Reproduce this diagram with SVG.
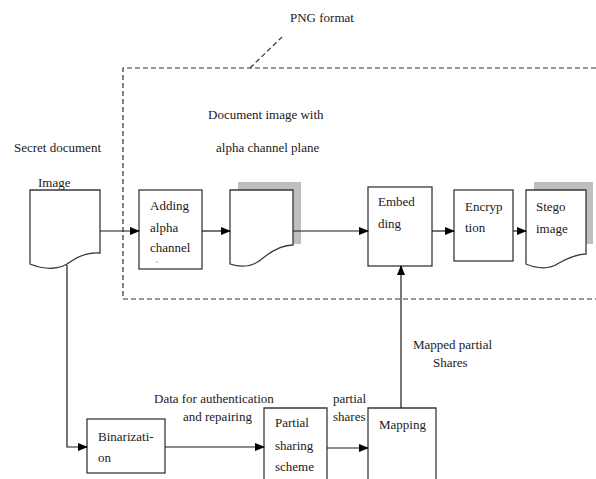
<svg xmlns="http://www.w3.org/2000/svg" width="596" height="479" viewBox="0 0 596 479">
<style>
text{font-family:"Liberation Serif","Times New Roman",serif;font-size:13px;fill:#1a1a1a}
.box{fill:#fff;stroke:#3a3a3a;stroke-width:1.3}
.shadow{fill:#bfbfbf}
.ln{fill:none;stroke:#1a1a1a;stroke-width:1.2}
.dash{fill:none;stroke:#333;stroke-width:1.2;stroke-dasharray:5,3}
</style>
<defs>
<marker id="ah" markerWidth="10" markerHeight="8" refX="9" refY="4" orient="auto" markerUnits="userSpaceOnUse">
<path d="M0,0 L10,4 L0,8 Z" fill="#000"/>
</marker>
</defs>
<rect width="596" height="479" fill="#fff"/>

<g id="png-format">
<path class="dash" d="M596,68 H123 V299 H596"/>
<path class="dash" d="M250,68 L282,37"/>
<text x="290" y="22">PNG format</text>
</g>

<g id="labels">
<text x="208" y="119">Document image with</text>
<text x="216" y="152">alpha channel plane</text>
<text x="14" y="152">Secret document</text>
<text x="38" y="187">Image</text>
<text x="154" y="403">Data for authentication</text>
<text x="183" y="421">and repairing</text>
<text x="333" y="403">partial</text>
<text x="333" y="421">shares</text>
<text x="413" y="349">Mapped partial</text>
<text x="433" y="367">Shares</text>
</g>

<g id="secret-doc">
<path class="box" d="M30,190 H100 V253 C90,252 80,255 70,262 C60,270 45,270 30,264 Z"/>
</g>

<g id="adding-alpha">
<rect class="box" x="139" y="190" width="63" height="79"/>
<text x="150" y="210">Adding</text>
<text x="150" y="232">alpha</text>
<text x="150" y="252">channel</text>
<circle cx="157" cy="262" r="0.6" fill="#333"/>
</g>

<g id="alpha-doc">
<rect class="shadow" x="238" y="182" width="63" height="62"/>
<path class="box" d="M230,190 H293 V245 C283,245 273,250 263,258 C253,267 242,268 230,264 Z"/>
</g>

<g id="embedding">
<rect class="box" x="368" y="187" width="64" height="79"/>
<text x="378" y="206">Embed</text>
<text x="378" y="228">ding</text>
</g>

<g id="encryption">
<rect class="box" x="454" y="190" width="59" height="71"/>
<text x="465" y="211">Encryp</text>
<text x="465" y="232">tion</text>
</g>

<g id="stego-image">
<rect class="shadow" x="534" y="182" width="59" height="62"/>
<path class="box" d="M526,190 H586 V254 C577,254 568,258 559,263 C550,269 538,269 526,264 Z"/>
<text x="536" y="211">Stego</text>
<text x="536" y="233">image</text>
</g>

<g id="binarization">
<rect class="box" x="87" y="419" width="78" height="54"/>
<text x="98" y="441">Binarizati-</text>
<text x="98" y="462">on</text>
</g>

<g id="partial-sharing">
<path class="box" d="M264,481 V408 H327 V481"/>
<text x="275" y="427">Partial</text>
<text x="275" y="450">sharing</text>
<text x="275" y="471">scheme</text>
</g>

<g id="mapping">
<path class="box" d="M368,481 V408 H436 V481"/>
<text x="379" y="429">Mapping</text>
</g>

<g id="connectors">
<line class="ln" x1="100" y1="231" x2="139" y2="231" marker-end="url(#ah)"/>
<line class="ln" x1="202" y1="231" x2="230" y2="231" marker-end="url(#ah)"/>
<line class="ln" x1="293" y1="231" x2="368" y2="231" marker-end="url(#ah)"/>
<line class="ln" x1="432" y1="231" x2="454" y2="231" marker-end="url(#ah)"/>
<line class="ln" x1="513" y1="231" x2="526" y2="231" marker-end="url(#ah)"/>
<path class="ln" d="M67,265 V447 H87" marker-end="url(#ah)"/>
<line class="ln" x1="165" y1="447" x2="264" y2="447" marker-end="url(#ah)"/>
<line class="ln" x1="327" y1="448" x2="368" y2="448" marker-end="url(#ah)"/>
<line class="ln" x1="401" y1="408" x2="401" y2="266" marker-end="url(#ah)"/>
</g>
</svg>
